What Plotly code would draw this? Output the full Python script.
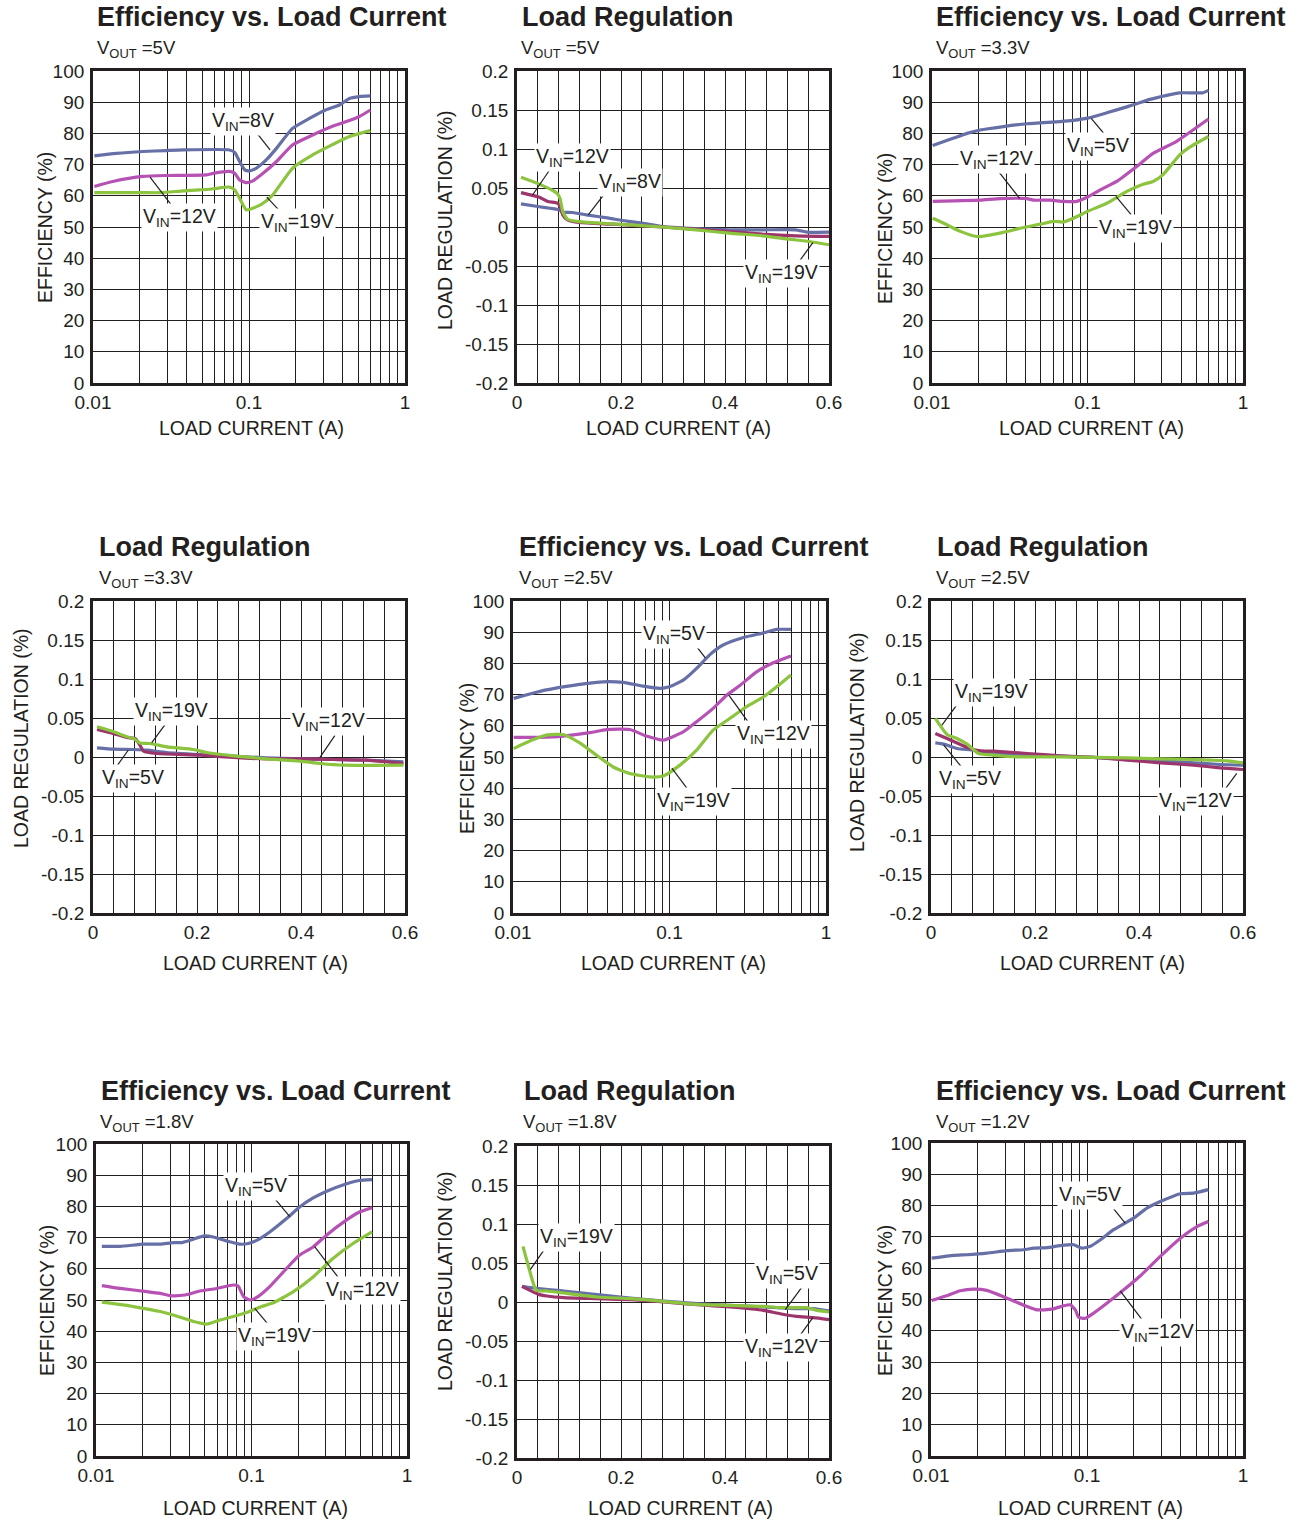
import numpy as np
import plotly.graph_objects as go

W, H = 1296, 1519
FONT = "Liberation Sans, Arial, sans-serif"
INK = "#231f20"
C_BLUE = "#6670a6"
C_MAG = "#b552b3"
C_MAR = "#9c356b"
C_GRN = "#8cc43f"

# ---------------- Panel 1: Efficiency, VOUT = 5V ----------------
e5_x_8v = [0.0102, 0.0141, 0.0209, 0.0295, 0.0377, 0.075, 0.081, 0.087, 0.094, 0.1, 0.111, 0.129, 0.15, 0.19, 0.244, 0.31, 0.38, 0.44, 0.51, 0.6]
e5_y_8v = [72.8, 73.6, 74.2, 74.5, 74.7, 74.7, 73.9, 71, 68.3, 68, 68.8, 71.5, 75.2, 81.6, 84.8, 87.5, 89.1, 91.2, 91.8, 92]
e5_x_12v = [0.0102, 0.0134, 0.0209, 0.0295, 0.053, 0.059, 0.075, 0.081, 0.087, 0.096, 0.106, 0.123, 0.15, 0.19, 0.256, 0.34, 0.44, 0.51, 0.6]
e5_y_12v = [63, 64.6, 66.2, 66.5, 66.7, 67.2, 67.8, 67.2, 65.1, 64.2, 64.8, 67.2, 71, 76.3, 79.5, 82.2, 84.1, 85.4, 87.5]
e5_x_19v = [0.0102, 0.0209, 0.027, 0.038, 0.048, 0.056, 0.062, 0.075, 0.081, 0.087, 0.096, 0.106, 0.123, 0.142, 0.19, 0.256, 0.34, 0.44, 0.6]
e5_y_19v = [61, 61, 61, 61.6, 61.9, 62.1, 62.4, 62.8, 61.9, 59.2, 55.5, 56, 57.6, 60.3, 68.8, 73.1, 76.3, 79, 80.9]

# ---------------- Panel 2: Load regulation, VOUT = 5V ----------------
r5_x_8v = [0.0077, 0.043, 0.081, 0.088, 0.107, 0.133, 0.177, 0.203, 0.241, 0.28, 0.344, 0.408, 0.472, 0.536, 0.558, 0.6]
r5_y_8v = [0.0297, 0.026, 0.022, 0.019, 0.0186, 0.0156, 0.0113, 0.0083, 0.0049, 0.0006, -0.002, -0.0036, -0.0036, -0.0036, -0.0066, -0.0066]
r5_x_12v = [0.0077, 0.043, 0.059, 0.078, 0.083, 0.088, 0.097, 0.12, 0.184, 0.28, 0.344, 0.408, 0.472, 0.536, 0.6]
r5_y_12v = [0.044, 0.038, 0.0327, 0.0305, 0.026, 0.0156, 0.0092, 0.0058, 0.0036, 0, -0.0028, -0.0058, -0.0092, -0.0113, -0.012]
r5_x_19v = [0.0077, 0.043, 0.069, 0.078, 0.083, 0.088, 0.097, 0.12, 0.184, 0.28, 0.344, 0.408, 0.472, 0.523, 0.562, 0.6]
r5_y_19v = [0.0638, 0.055, 0.0468, 0.0425, 0.036, 0.0198, 0.01, 0.007, 0.004, 0, -0.0036, -0.0079, -0.0113, -0.0156, -0.0186, -0.0228]

# ---------------- Panel 3: Efficiency, VOUT = 3.3V ----------------
e33_x_5v = [0.0101, 0.0138, 0.0168, 0.0204, 0.0288, 0.0407, 0.0665, 0.0812, 0.1, 0.133, 0.179, 0.207, 0.252, 0.323, 0.392, 0.477, 0.55, 0.6]
e33_y_5v = [76.1, 78.5, 80, 81.1, 82.2, 83.1, 83.8, 84.2, 84.9, 86.6, 88.5, 89.5, 90.9, 92.2, 93, 93, 93, 93.8]
e33_x_12v = [0.0101, 0.0138, 0.0204, 0.0275, 0.0407, 0.0449, 0.0575, 0.07, 0.0851, 0.1, 0.126, 0.154, 0.207, 0.264, 0.372, 0.477, 0.6]
e33_y_12v = [58.2, 58.4, 58.6, 59.1, 59.1, 58.6, 58.6, 58.2, 58.2, 59.6, 62.4, 64.6, 69.4, 73.6, 77.4, 81.1, 84.6]
e33_x_19v = [0.0101, 0.0119, 0.0152, 0.0198, 0.0288, 0.0369, 0.0496, 0.0604, 0.07, 0.0812, 0.1, 0.133, 0.179, 0.228, 0.264, 0.306, 0.392, 0.452, 0.6]
e33_y_19v = [52.8, 51.2, 48.6, 46.9, 48.3, 49.6, 50.9, 51.8, 51.6, 52.8, 55, 57.6, 61.4, 63.7, 64.6, 66.8, 73.1, 75.5, 79]

# ---------------- Panel 4: Load regulation, VOUT = 3.3V ----------------
r33_x_5v = [0.0077, 0.0397, 0.078, 0.104, 0.142, 0.206, 0.27, 0.334, 0.398, 0.462, 0.526, 0.597]
r33_y_5v = [0.0118, 0.01, 0.0096, 0.0088, 0.0058, 0.0032, 0.001, -0.001, -0.0024, -0.0032, -0.004, -0.0062]
r33_x_12v = [0.0077, 0.0397, 0.0653, 0.0813, 0.0877, 0.0973, 0.123, 0.206, 0.27, 0.334, 0.398, 0.462, 0.526, 0.597]
r33_y_12v = [0.0353, 0.03, 0.025, 0.0237, 0.018, 0.0075, 0.0045, 0.0024, -0.0006, -0.0024, -0.0024, -0.0032, -0.004, -0.0083]
r33_x_19v = [0.0077, 0.0397, 0.0653, 0.078, 0.0909, 0.11, 0.142, 0.193, 0.219, 0.27, 0.334, 0.398, 0.437, 0.482, 0.597]
r33_y_19v = [0.0387, 0.0323, 0.0259, 0.0237, 0.018, 0.0173, 0.013, 0.0096, 0.0058, 0.0015, -0.0024, -0.0053, -0.0083, -0.0105, -0.0105]

# ---------------- Panel 5: Efficiency, VOUT = 2.5V ----------------
e25_x_5v = [0.0101, 0.0128, 0.0163, 0.0209, 0.0267, 0.0377, 0.0506, 0.0679, 0.087, 0.0998, 0.123, 0.149, 0.182, 0.22, 0.297, 0.4, 0.484, 0.597]
e25_y_5v = [68.8, 70.2, 71.5, 72.5, 73.3, 74.1, 73.9, 72.7, 72, 72.5, 74.7, 78.4, 82.9, 85.9, 88.3, 89.8, 90.9, 90.9]
e25_x_12v = [0.0101, 0.0148, 0.0209, 0.031, 0.0396, 0.0558, 0.0712, 0.0912, 0.123, 0.149, 0.19, 0.232, 0.283, 0.36, 0.46, 0.597]
e25_y_12v = [56.3, 56.3, 56.7, 57.8, 58.8, 58.8, 56.7, 55.4, 58.1, 61.3, 65.6, 69.8, 73, 77.3, 80.2, 82.4]
e25_x_19v = [0.0101, 0.0128, 0.0163, 0.0209, 0.0267, 0.0341, 0.0437, 0.0558, 0.0751, 0.0912, 0.1166, 0.149, 0.19, 0.244, 0.31, 0.4, 0.484, 0.597]
e25_y_19v = [52.7, 55.1, 57, 57.2, 54.5, 50.6, 46.8, 44.7, 43.6, 43.9, 47.4, 52.2, 58.6, 62.4, 66.1, 69.3, 72.5, 76.3]

# ---------------- Panel 6: Load regulation, VOUT = 2.5V ----------------
r25_x_5v = [0.0083, 0.0244, 0.05, 0.082, 0.0949, 0.185, 0.249, 0.313, 0.377, 0.441, 0.505, 0.556, 0.6]
r25_y_5v = [0.018, 0.0165, 0.0109, 0.0088, 0.0066, 0.0032, 0.001, -0.0006, -0.0028, -0.0049, -0.0075, -0.0096, -0.0105]
r25_x_12v = [0.0083, 0.0308, 0.0564, 0.0756, 0.0949, 0.1205, 0.185, 0.249, 0.313, 0.377, 0.441, 0.505, 0.556, 0.6]
r25_y_12v = [0.0302, 0.0237, 0.016, 0.0109, 0.0079, 0.0075, 0.0045, 0.0015, -0.0006, -0.004, -0.0075, -0.0105, -0.0139, -0.016]
r25_x_19v = [0.0083, 0.0308, 0.05, 0.0692, 0.0917, 0.1205, 0.165, 0.249, 0.313, 0.377, 0.441, 0.505, 0.537, 0.569, 0.6]
r25_y_19v = [0.0494, 0.0289, 0.0237, 0.0165, 0.0045, 0.0024, 0.0002, 0.0002, -0.0006, -0.001, -0.0024, -0.0032, -0.004, -0.0049, -0.0075]

# ---------------- Panel 7: Efficiency, VOUT = 1.8V ----------------
e18_x_5v = [0.0109, 0.0143, 0.0202, 0.0259, 0.0315, 0.0356, 0.0423, 0.049, 0.0568, 0.0693, 0.0843, 0.0953, 0.108, 0.131, 0.168, 0.204, 0.249, 0.302, 0.405, 0.494, 0.596]
e18_y_5v = [67.2, 67.2, 67.9, 67.9, 68.4, 68.4, 69.5, 70.5, 70.2, 68.9, 67.9, 68.1, 69.1, 71.8, 76.1, 79.8, 82.7, 84.8, 87.2, 88.3, 88.6]
e18_x_12v = [0.0109, 0.0143, 0.0212, 0.0259, 0.03, 0.0373, 0.0467, 0.0596, 0.0764, 0.082, 0.0889, 0.0979, 0.11, 0.131, 0.168, 0.204, 0.249, 0.302, 0.405, 0.494, 0.596]
e18_y_12v = [54.6, 53.7, 52.7, 52.1, 51.4, 51.6, 52.9, 53.7, 54.8, 54.5, 51.1, 50, 51.1, 54.3, 60.1, 64.4, 67, 70.7, 75.5, 78.2, 79.6]
e18_x_19v = [0.0109, 0.0174, 0.0259, 0.0348, 0.0423, 0.0516, 0.0627, 0.0764, 0.093, 0.113, 0.138, 0.186, 0.249, 0.334, 0.45, 0.596]
e18_y_19v = [49.3, 47.9, 46.3, 44.5, 43.1, 42.3, 43.6, 44.7, 46, 47.7, 49.1, 52.7, 57.4, 63.3, 68.1, 71.8]

# ---------------- Panel 8: Load regulation, VOUT = 1.8V ----------------
r18_x_5v = [0.0096, 0.0416, 0.0896, 0.154, 0.218, 0.282, 0.346, 0.41, 0.474, 0.538, 0.57, 0.6]
r18_y_5v = [0.0201, 0.0171, 0.0141, 0.0094, 0.0051, 0.0013, -0.0021, -0.0043, -0.0064, -0.0085, -0.0085, -0.0115]
r18_x_12v = [0.0096, 0.0416, 0.0576, 0.0896, 0.154, 0.218, 0.282, 0.346, 0.41, 0.474, 0.506, 0.538, 0.57, 0.6]
r18_y_12v = [0.0201, 0.0098, 0.0077, 0.0056, 0.0043, 0.003, 0, -0.0034, -0.0064, -0.0107, -0.015, -0.0184, -0.0201, -0.0226]
r18_x_19v = [0.0115, 0.0224, 0.0371, 0.0576, 0.0896, 0.154, 0.218, 0.282, 0.346, 0.41, 0.474, 0.506, 0.557, 0.576, 0.6]
r18_y_19v = [0.0714, 0.0449, 0.015, 0.0141, 0.0115, 0.0064, 0.0043, 0.0009, -0.003, -0.0043, -0.0056, -0.0073, -0.0073, -0.0107, -0.0128]

# ---------------- Panel 9: Efficiency, VOUT = 1.2V ----------------
e12_x_5v = [0.0101, 0.014, 0.017, 0.0228, 0.0307, 0.0392, 0.0455, 0.0554, 0.0673, 0.0822, 0.0928, 0.105, 0.122, 0.148, 0.199, 0.242, 0.295, 0.397, 0.483, 0.6]
e12_y_5v = [63.2, 64.1, 64.3, 64.8, 65.6, 65.9, 66.4, 66.6, 67.2, 67.5, 66.4, 67, 69.1, 72.3, 76, 79.2, 81.3, 83.8, 84, 85.1]
e12_x_12v = [0.0101, 0.0126, 0.0154, 0.0188, 0.0228, 0.0307, 0.0413, 0.0478, 0.0596, 0.0709, 0.0781, 0.0842, 0.0884, 0.0975, 0.11, 0.134, 0.172, 0.22, 0.295, 0.397, 0.507, 0.6]
e12_y_12v = [49.7, 51.2, 52.8, 53.3, 52.9, 50.4, 47.8, 46.7, 46.9, 48, 48.3, 46.7, 44.3, 44, 45.6, 48.8, 53.1, 57.6, 63.8, 69.6, 73.3, 74.9]

# ---------------- Text ----------------
TITLE_EFF = "Efficiency vs. Load Current"
TITLE_REG = "Load Regulation"
VOUT_LABELS = ["5V", "5V", "3.3V", "3.3V", "2.5V", "2.5V", "1.8V", "1.8V", "1.2V"]
XTITLE = "LOAD CURRENT (A)"
YTITLE_EFF = "EFFICIENCY (%)"
YTITLE_REG = "LOAD REGULATION (%)"

# tick labels / grid positions
LOG_MAJOR = [0.01, 0.1, 1.0]
LOG_MAJOR_TEXT = ["0.01", "0.1", "1"]
LOG_MINOR = [d * 10.0 ** e for e in (-2, -1) for d in range(2, 10)]
EFF_Y = list(range(0, 101, 10))
EFF_Y_TEXT = [str(v) for v in EFF_Y]
REG_X_MAJOR = [0, 0.2, 0.4, 0.6]
REG_X_MAJOR_TEXT = ["0", "0.2", "0.4", "0.6"]
REG_X_MINOR = [round(0.04 * i, 2) for i in range(16) if i % 5]
REG_Y = [0.2, 0.15, 0.1, 0.05, 0, -0.05, -0.1, -0.15, -0.2]
REG_Y_TEXT = ["0.2", "0.15", "0.1", "0.05", "0", "-0.05", "-0.1", "-0.15", "-0.2"]


def vin(v):
    return "V<sub>IN</sub>=" + v


# label spec: (text, text_x, text_y, head_x, head_y, tail_dx_px, tail_dy_px)
panels = [
    dict(kind="eff", px=(93, 405), py=(71, 383), title_xy=(95, 17), vout_xy=(95, 49),
         ytitle_xy=(45, 228), xtitle_xy=(251, 428),
         series=[(e5_x_8v, e5_y_8v, C_BLUE), (e5_x_12v, e5_y_12v, C_MAG), (e5_x_19v, e5_y_19v, C_GRN)],
         labels=[(vin("8V"), 0.0916, 83.7, 0.1365, 74.7, -15, -19),
                 (vin("12V"), 0.0361, 52.9, 0.0232, 66, 23, 30),
                 (vin("19V"), 0.206, 51.6, 0.130, 59.6, 15, 16)]),
    dict(kind="reg", px=(517, 829), py=(71, 383), title_xy=(520, 17), vout_xy=(519, 49),
         ytitle_xy=(445, 220), xtitle_xy=(678, 428),
         series=[(r5_x_8v, r5_y_8v, C_BLUE), (r5_x_12v, r5_y_12v, C_MAR), (r5_x_19v, r5_y_19v, C_GRN)],
         labels=[(vin("12V"), 0.107, 0.0885, 0.030, 0.041, 17, -25),
                 (vin("8V"), 0.217, 0.0568, 0.137, 0.0154, 17, -22),
                 (vin("19V"), 0.509, -0.059, 0.569, -0.020, -16, 22)]),
    dict(kind="eff", px=(932, 1243), py=(71, 383), title_xy=(934, 17), vout_xy=(934, 49),
         ytitle_xy=(885, 229), xtitle_xy=(1091, 428),
         series=[(e33_x_5v, e33_y_5v, C_BLUE), (e33_x_12v, e33_y_12v, C_MAG), (e33_x_19v, e33_y_19v, C_GRN)],
         labels=[(vin("5V"), 0.1164, 75.7, 0.1057, 84.8, 15, 18),
                 (vin("12V"), 0.026, 71.5, 0.0366, 59.2, -22, -28),
                 (vin("19V"), 0.205, 49.6, 0.1528, 59.7, 15, 18)]),
    dict(kind="reg", px=(93, 405), py=(601, 913), title_xy=(97, 547), vout_xy=(97, 579),
         ytitle_xy=(21, 738), xtitle_xy=(255, 963),
         series=[(r33_x_5v, r33_y_5v, C_BLUE), (r33_x_12v, r33_y_12v, C_MAR), (r33_x_19v, r33_y_19v, C_GRN)],
         labels=[(vin("19V"), 0.151, 0.058, 0.113, 0.0183, 17, -23),
                 (vin("12V"), 0.4525, 0.0453, 0.4365, -0.0004, 15, -22),
                 (vin("5V"), 0.0775, -0.0273, 0.068, 0.009, -15, 21)]),
    dict(kind="eff", px=(513, 826), py=(601, 913), title_xy=(517, 547), vout_xy=(517, 579),
         ytitle_xy=(467, 759), xtitle_xy=(673, 963),
         series=[(e25_x_5v, e25_y_5v, C_BLUE), (e25_x_12v, e25_y_12v, C_MAG), (e25_x_19v, e25_y_19v, C_GRN)],
         labels=[(vin("5V"), 0.1062, 89.3, 0.1694, 81.8, -17, -22),
                 (vin("12V"), 0.4645, 57.1, 0.2388, 69.9, 23, 32),
                 (vin("19V"), 0.1426, 35.7, 0.1035, 46.4, 15, 20)]),
    dict(kind="reg", px=(931, 1243), py=(601, 913), title_xy=(935, 547), vout_xy=(934, 579),
         ytitle_xy=(857, 742), xtitle_xy=(1092, 963),
         series=[(r25_x_5v, r25_y_5v, C_BLUE), (r25_x_12v, r25_y_12v, C_MAR), (r25_x_19v, r25_y_19v, C_GRN)],
         labels=[(vin("19V"), 0.117, 0.0824, 0.021, 0.041, 17, -23),
                 (vin("5V"), 0.0756, -0.0286, 0.0242, 0.0154, 22, 27),
                 (vin("12V"), 0.508, -0.0573, 0.588, -0.0209, -17, 23)]),
    dict(kind="eff", px=(96, 407), py=(1144, 1456), title_xy=(99, 1091), vout_xy=(98, 1123),
         ytitle_xy=(47, 1301), xtitle_xy=(255, 1508),
         series=[(e18_x_5v, e18_y_5v, C_BLUE), (e18_x_12v, e18_y_12v, C_MAG), (e18_x_19v, e18_y_19v, C_GRN)],
         labels=[(vin("5V"), 0.1076, 86.3, 0.1762, 76.7, -15, -18),
                 (vin("12V"), 0.515, 53.2, 0.2547, 67.1, 23, 30),
                 (vin("19V"), 0.141, 38.2, 0.105, 47.3, 15, 18)]),
    dict(kind="reg", px=(517, 829), py=(1146, 1458), title_xy=(522, 1091), vout_xy=(521, 1123),
         ytitle_xy=(445, 1281), xtitle_xy=(680, 1508),
         series=[(r18_x_5v, r18_y_5v, C_BLUE), (r18_x_12v, r18_y_12v, C_MAR), (r18_x_19v, r18_y_19v, C_GRN)],
         labels=[(vin("19V"), 0.115, 0.0833, 0.0256, 0.0415, 16, -23),
                 (vin("5V"), 0.519, 0.0355, 0.516, -0.0097, 17, -23),
                 (vin("12V"), 0.5096, -0.0585, 0.569, -0.020, -16, 22)]),
    dict(kind="eff", px=(931, 1243), py=(1143, 1456), title_xy=(934, 1091), vout_xy=(934, 1123),
         ytitle_xy=(885, 1301), xtitle_xy=(1090, 1508),
         series=[(e12_x_5v, e12_y_5v, C_BLUE), (e12_x_12v, e12_y_12v, C_MAG)],
         labels=[(vin("5V"), 0.105, 83.1, 0.1758, 74.4, -17, -21),
                 (vin("12V"), 0.281, 39.5, 0.1637, 52.7, 25, 33)]),
]

TICKFONT = dict(family=FONT, size=19, color=INK)
fig = go.Figure()
annotations = []
shapes = []

for i, p in enumerate(panels, start=1):
    sfx = "" if i == 1 else str(i)
    xa, ya = "x" + sfx, "y" + sfx
    is_log = p["kind"] == "eff"
    wpx = p["px"][1] - p["px"][0]
    hpx = p["py"][1] - p["py"][0]
    common = dict(showgrid=True, gridcolor=INK, gridwidth=1.4, showline=True, linecolor=INK,
                  linewidth=2.8, mirror=True, ticks="", zeroline=False, tickfont=TICKFONT,
                  tickmode="array", fixedrange=True, automargin=False)
    minor_grid = dict(tickmode="array", showgrid=True, gridcolor=INK, gridwidth=1.4, ticks="")
    xd = [p["px"][0] / W, p["px"][1] / W]
    yd = [1 - p["py"][1] / H, 1 - p["py"][0] / H]
    if is_log:
        xaxis = dict(type="log", range=[-2, 0], tickvals=LOG_MAJOR, ticktext=LOG_MAJOR_TEXT,
                     minor=dict(tickvals=LOG_MINOR, **minor_grid), **common)
        yaxis = dict(range=[0, 100], tickvals=EFF_Y, ticktext=EFF_Y_TEXT, **common)
    else:
        xaxis = dict(range=[0, 0.6], tickvals=REG_X_MAJOR, ticktext=REG_X_MAJOR_TEXT,
                     minor=dict(tickvals=REG_X_MINOR, **minor_grid), **common)
        yaxis = dict(range=[-0.2, 0.2], tickvals=REG_Y, ticktext=REG_Y_TEXT, **common)
    xaxis.update(domain=xd, anchor=ya, ticklabelstandoff=0)
    yaxis.update(domain=yd, anchor=xa, ticklabelstandoff=2)
    fig.update_layout(**{"xaxis" + sfx: xaxis, "yaxis" + sfx: yaxis})

    for xs, ys, col in p["series"]:
        fig.add_trace(go.Scatter(x=xs, y=ys, xaxis=xa, yaxis=ya, mode="lines",
                                 line=dict(color=col, width=3.2, shape="spline", smoothing=0.5),
                                 showlegend=False, hoverinfo="skip"))

    for txt, tx, ty, hx, hy, dx, dy in p["labels"]:
        # leader line: from head (on the curve) to tail (next to the label)
        if is_log:
            tail_x = 10 ** (np.log10(hx) + dx * 2.0 / wpx)
            tail_y = hy - dy * 100.0 / hpx
            ann_x = float(np.log10(tx))
        else:
            tail_x = hx + dx * 0.6 / wpx
            tail_y = hy - dy * 0.4 / hpx
            ann_x = tx
        shapes.append(dict(type="line", xref=xa, yref=ya, x0=hx, y0=hy, x1=tail_x, y1=tail_y,
                           line=dict(color=INK, width=1.2)))
        annotations.append(dict(xref=xa, yref=ya, x=ann_x, y=ty, text=txt, showarrow=False,
                                bgcolor="white", borderpad=1, xanchor="center", yanchor="middle",
                                font=dict(family=FONT, size=19.5, color=INK)))

    title = TITLE_EFF if is_log else TITLE_REG
    annotations.append(dict(xref="paper", yref="paper", x=p["title_xy"][0] / W, y=1 - p["title_xy"][1] / H,
                            text="<b>" + title + "</b>", showarrow=False, xanchor="left", yanchor="middle",
                            font=dict(family=FONT, size=27, color=INK)))
    annotations.append(dict(xref="paper", yref="paper", x=p["vout_xy"][0] / W, y=1 - p["vout_xy"][1] / H,
                            text="V<sub>OUT</sub> =" + VOUT_LABELS[i - 1], showarrow=False, xanchor="left",
                            yanchor="middle", font=dict(family=FONT, size=18.5, color=INK)))
    annotations.append(dict(xref="paper", yref="paper", x=p["xtitle_xy"][0] / W, y=1 - p["xtitle_xy"][1] / H,
                            text=XTITLE, showarrow=False, xanchor="center", yanchor="middle",
                            font=dict(family=FONT, size=19.5, color=INK)))
    annotations.append(dict(xref="paper", yref="paper", x=p["ytitle_xy"][0] / W, y=1 - p["ytitle_xy"][1] / H,
                            text=YTITLE_EFF if is_log else YTITLE_REG, showarrow=False, textangle=-90,
                            xanchor="center", yanchor="middle",
                            font=dict(family=FONT, size=19.5, color=INK)))

fig.update_layout(template="none", width=W, height=H, margin=dict(l=0, r=0, t=0, b=0, autoexpand=False),
                  paper_bgcolor="white", plot_bgcolor="white",
                  font=dict(family=FONT, color=INK), annotations=annotations, shapes=shapes)

fig.write_html("out.html", config={"displayModeBar": False},
               post_script="document.body.style.margin='0';document.body.style.overflow='hidden';")
